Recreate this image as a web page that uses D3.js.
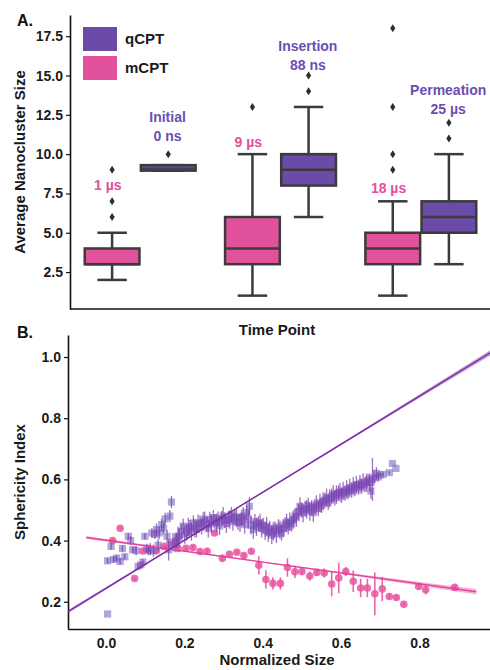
<!DOCTYPE html>
<html><head><meta charset="utf-8">
<script src="https://cdn.jsdelivr.net/npm/d3@7"></script>
<style>
body{margin:0;background:#fff}
text{font-family:"Liberation Sans",Arial,Helvetica,sans-serif;font-weight:bold}
</style>
</head><body><svg id="c" width="490" height="670"></svg>
<script>
// ---------------- DATA: panel A (box plots) ----------------
const timeGroups = [0, 1, 2];
const hues = ["qCPT", "mCPT"];
// [whisker low, q1, median, q3, whisker high]
const mCPTStats = [[2, 3, 3, 4, 5], [1, 3, 4, 6, 10], [1, 3, 4, 5, 7]];
const qCPTStats = [[8.95, 8.95, 9.1, 9.3, 9.3], [6, 8, 9, 10, 13], [3, 5, 6, 7, 10]];
const mCPTOutliers = [[6, 7, 9], [13], [9, 10, 13, 18]];
const qCPTOutliers = [[10], [14, 15], [11, 12]];
const mCPTLabels = [["1 µs"], ["9 µs"], ["18 µs"]];
const qCPTLabels = [["Initial", "0 ns"], ["Insertion", "88 ns"], ["Permeation", "25 µs"]];
const yTicksA = [2.5, 5, 7.5, 10, 12.5, 15, 17.5];

// ---------------- DATA: panel B (scatter) ----------------
const mX = [0.017,0.036,0.073,0.094,0.129,0.148,0.163,0.184,0.204,0.222,0.240,0.258,0.277,0.297,0.315,0.334,0.352,0.371,0.390,0.408,0.426,0.445,0.463,0.482,0.500,0.520,0.538,0.557,0.576,0.594,0.612,0.631,0.650,0.667,0.686,0.705,0.723,0.741,0.760,0.798,0.816,0.890];
const mY = [0.400,0.440,0.276,0.366,0.367,0.381,0.387,0.374,0.375,0.377,0.364,0.365,0.425,0.342,0.355,0.362,0.351,0.365,0.319,0.273,0.260,0.260,0.312,0.298,0.299,0.284,0.296,0.294,0.258,0.278,0.299,0.267,0.245,0.245,0.226,0.242,0.217,0.214,0.192,0.250,0.239,0.247];
const mErr = [0.005,0.005,0.005,0.005,0.006,0.006,0.006,0.006,0.006,0.006,0.008,0.008,0.006,0.012,0.010,0.006,0.008,0.008,0.030,0.030,0.020,0.020,0.030,0.020,0.012,0.015,0.012,0.015,0.040,0.050,0.015,0.035,0.030,0.030,0.070,0.040,0.010,0.008,0.005,0.008,0.015,0.008];

const qX = [0.004,0.004,0.013,0.019,0.027,0.036,0.042,0.048,0.057,0.063,0.068,0.077,0.082,0.089,0.094,0.099,0.104,0.108,0.113,0.117,0.121,0.125,0.129,0.133,0.136,0.142,0.147,0.151,0.156,0.160,0.163,0.167,0.171,0.176,0.180,0.184,0.187,0.192,0.197,0.201,0.206,0.210,0.214,0.218,0.223,0.227,0.231,0.235,0.240,0.244,0.248,0.252,0.257,0.261,0.265,0.269,0.274,0.278,0.282,0.286,0.290,0.295,0.299,0.303,0.307,0.312,0.316,0.320,0.324,0.329,0.333,0.337,0.342,0.346,0.350,0.354,0.359,0.363,0.366,0.370,0.376,0.380,0.384,0.389,0.393,0.397,0.401,0.406,0.410,0.414,0.418,0.423,0.427,0.431,0.435,0.440,0.444,0.448,0.452,0.457,0.461,0.465,0.469,0.474,0.478,0.482,0.486,0.491,0.495,0.499,0.503,0.508,0.512,0.516,0.520,0.525,0.529,0.533,0.537,0.542,0.546,0.550,0.554,0.559,0.563,0.567,0.571,0.576,0.580,0.584,0.588,0.593,0.597,0.601,0.605,0.610,0.614,0.618,0.622,0.627,0.631,0.635,0.639,0.644,0.648,0.652,0.656,0.661,0.665,0.669,0.673,0.676,0.680,0.684,0.690,0.695,0.700,0.707,0.723,0.731,0.740];
const qY = [0.160,0.334,0.381,0.338,0.343,0.332,0.374,0.347,0.414,0.400,0.370,0.367,0.316,0.321,0.330,0.414,0.375,0.367,0.372,0.425,0.367,0.420,0.436,0.385,0.425,0.452,0.440,0.471,0.414,0.370,0.480,0.526,0.395,0.392,0.400,0.415,0.409,0.430,0.447,0.420,0.425,0.445,0.442,0.430,0.458,0.440,0.436,0.455,0.458,0.445,0.463,0.470,0.452,0.440,0.469,0.455,0.475,0.462,0.458,0.470,0.448,0.472,0.480,0.466,0.455,0.470,0.469,0.485,0.462,0.478,0.474,0.460,0.458,0.476,0.480,0.452,0.491,0.470,0.512,0.450,0.436,0.462,0.445,0.455,0.458,0.440,0.450,0.432,0.447,0.425,0.440,0.418,0.430,0.438,0.422,0.445,0.436,0.425,0.440,0.452,0.458,0.445,0.462,0.455,0.469,0.480,0.475,0.495,0.512,0.500,0.490,0.505,0.502,0.515,0.495,0.508,0.491,0.512,0.518,0.505,0.523,0.515,0.528,0.532,0.540,0.525,0.538,0.545,0.551,0.540,0.550,0.556,0.558,0.548,0.562,0.555,0.567,0.560,0.572,0.565,0.578,0.570,0.582,0.575,0.584,0.578,0.590,0.583,0.589,0.598,0.590,0.562,0.600,0.605,0.620,0.608,0.615,0.616,0.622,0.652,0.636];
const qErr = [0,0.010,0.010,0.010,0.010,0.010,0.010,0.010,0.010,0.015,0.010,0.015,0.010,0.010,0.010,0.010,0.015,0.015,0.020,0.015,0.020,0.015,0.020,0.020,0.020,0.020,0.020,0.020,0.020,0.035,0.020,0.020,0.030,0.030,0.025,0.030,0.030,0.025,0.025,0.030,0.025,0.030,0.025,0.030,0.025,0.030,0.025,0.030,0.025,0.025,0.030,0.025,0.025,0.030,0.025,0.030,0.025,0.025,0.030,0.025,0.030,0.025,0.030,0.025,0.030,0.025,0.030,0.025,0.030,0.025,0.030,0.025,0.030,0.025,0.030,0.030,0.025,0.030,0.030,0.030,0.030,0.025,0.030,0.025,0.030,0.030,0.025,0.030,0.030,0.030,0.025,0.030,0.030,0.025,0.030,0.025,0.030,0.025,0.030,0.025,0.030,0.025,0.030,0.025,0.030,0.025,0.030,0.025,0.030,0.025,0.030,0.025,0.030,0.025,0.030,0.025,0.030,0.025,0.030,0.025,0.030,0.025,0.030,0.025,0.030,0.025,0.030,0.025,0.030,0.025,0.030,0.025,0.030,0.025,0.030,0.025,0.030,0.025,0.030,0.025,0.030,0.025,0.030,0.025,0.030,0.025,0.030,0.025,0.030,0.020,0.030,0.025,0.070,0.025,0.020,0.015,0.005,0.005,0.005];

// regression fits: [intercept, slope, x start, x end], CI half-widths [left, middle, right]
const qFit = [0.244, 0.785, -0.097, 0.98];
const qFitCI = [0.005, 0.002, 0.009];
const mFit = [0.401, -0.178, -0.05, 0.945];
const mFitCI = [0.005, 0.002, 0.009];
const xTicksB = [0, 0.2, 0.4, 0.6, 0.8];
const yTicksB = [0.2, 0.4, 0.6, 0.8, 1.0];

// ---------------- STYLE ----------------
const purple = "#6a4ba7", pink = "#e2529c", boxLine = "#3b3b3b";
const qPoint = "#7f6ac4", qBar = "#7a35aa", qLine = "#7b2ca6";
const mPoint = "#e8559f", mLine = "#e6419a";

const svg = d3.select("#c");

// ================= PANEL A =================
const xA = d3.scaleLinear().domain([-0.5, 2.5]).range([70, 491]);
const yA = d3.scaleLinear().domain([0.15, 18.85]).range([309, 15]);

const axA = svg.append("g").attr("transform", "translate(70,0)")
  .call(d3.axisLeft(yA).tickValues(yTicksA).tickFormat(d3.format(".1f")).tickSize(4).tickSizeOuter(0).tickPadding(3));
axA.select(".domain").attr("stroke", "#111").attr("stroke-width", 1.6);
axA.selectAll(".tick line").attr("stroke", "#111").attr("stroke-width", 1.2);
axA.selectAll(".tick text").attr("font-size", 14).attr("fill", "#1a1a1a").attr("font-family", "Liberation Sans, Arial, sans-serif").attr("font-weight", "bold");
svg.append("line").attr("x1", 70).attr("x2", 490).attr("y1", 309).attr("y2", 309).attr("stroke", "#111").attr("stroke-width", 1.6);

const boxW = 0.39, capW = 0.21;
function drawBox(gi, stats, outs, off, fill) {
  const cx = xA(gi + off);
  const hw = (xA(boxW / 2) - xA(0));
  const cw = (xA(capW / 2) - xA(0));
  const [lo, q1, med, q3, hi] = stats;
  const g = svg.append("g").attr("stroke", boxLine).attr("stroke-width", 2.5);
  g.append("line").attr("x1", cx).attr("x2", cx).attr("y1", yA(q3)).attr("y2", yA(hi));
  g.append("line").attr("x1", cx).attr("x2", cx).attr("y1", yA(q1)).attr("y2", yA(lo));
  g.append("line").attr("x1", cx - cw).attr("x2", cx + cw).attr("y1", yA(hi)).attr("y2", yA(hi));
  g.append("line").attr("x1", cx - cw).attr("x2", cx + cw).attr("y1", yA(lo)).attr("y2", yA(lo));
  g.append("rect").attr("x", cx - hw).attr("width", 2 * hw).attr("y", yA(q3)).attr("height", yA(q1) - yA(q3)).attr("fill", fill);
  g.append("line").attr("x1", cx - hw).attr("x2", cx + hw).attr("y1", yA(med)).attr("y2", yA(med)).attr("stroke-width", q3 - q1 < 1 ? 1 : 2.5);
  outs.forEach(v => {
    const y = yA(v);
    svg.append("path").attr("d", `M${cx},${y - 4}L${cx + 2.6},${y}L${cx},${y + 4}L${cx - 2.6},${y}Z`).attr("fill", "#2e2e2e");
  });
}
timeGroups.forEach(i => {
  drawBox(i, mCPTStats[i], mCPTOutliers[i], -0.2, pink);
  drawBox(i, qCPTStats[i], qCPTOutliers[i], 0.2, purple);
});

// group labels (layout anchors in data units)
const mLabY = [7.7, 10.45, 7.5];
const qLabY = [12.05, 16.55, 13.75];
timeGroups.forEach(i => {
  svg.append("text").attr("x", xA(i - 0.23)).attr("y", yA(mLabY[i])).attr("text-anchor", "middle")
    .attr("font-size", 14).attr("fill", "#e0509c").text(mCPTLabels[i][0]);
  qCPTLabels[i].forEach((t, k) => {
    svg.append("text").attr("x", xA(i + 0.195)).attr("y", yA(qLabY[i]) + k * 19).attr("text-anchor", "middle")
      .attr("font-size", 14).attr("fill", "#6a4fb2").text(t);
  });
});

// legend
const legColors = [purple, pink];
hues.forEach((h, k) => {
  svg.append("rect").attr("x", 83).attr("y", 27 + k * 29).attr("width", 34).attr("height", 24).attr("fill", legColors[k]);
  svg.append("text").attr("x", 125).attr("y", 44 + k * 29).attr("font-size", 15).attr("fill", "#1a1a1a").text(h);
});

svg.append("text").attr("x", 17).attr("y", 26).attr("font-size", 16).attr("fill", "#111").text("A.");
svg.append("text").attr("transform", "translate(25,162) rotate(-90)").attr("text-anchor", "middle")
  .attr("font-size", 15).attr("fill", "#1a1a1a").text("Average Nanocluster Size");
svg.append("text").attr("x", 277).attr("y", 335).attr("text-anchor", "middle")
  .attr("font-size", 15).attr("fill", "#1a1a1a").text("Time Point");

// ================= PANEL B =================
const xB = d3.scaleLinear().domain([-0.097, 0.98]).range([68, 490]);
const yB = d3.scaleLinear().domain([0.111, 1.072]).range([629, 335]);

svg.append("defs").append("clipPath").attr("id", "clipB")
  .append("rect").attr("x", 68).attr("y", 335).attr("width", 422).attr("height", 294);

const axBy = svg.append("g").attr("transform", "translate(68,0)")
  .call(d3.axisLeft(yB).tickValues(yTicksB).tickFormat(d3.format(".1f")).tickSize(4).tickSizeOuter(0).tickPadding(3));
const axBx = svg.append("g").attr("transform", "translate(0,629)")
  .call(d3.axisBottom(xB).tickValues(xTicksB).tickFormat(d3.format(".1f")).tickSize(0).tickSizeOuter(0).tickPadding(9));
[axBy, axBx].forEach(a => {
  a.select(".domain").attr("stroke", "#111").attr("stroke-width", 1.6);
  a.selectAll(".tick line").attr("stroke", "#111").attr("stroke-width", 1.2);
  a.selectAll(".tick text").attr("font-size", 14).attr("fill", "#1a1a1a").attr("font-family", "Liberation Sans, Arial, sans-serif").attr("font-weight", "bold");
});

const plot = svg.append("g").attr("clip-path", "url(#clipB)");

// mCPT points
mX.forEach((x, i) => {
  if (mErr[i] > 0.004) plot.append("line").attr("x1", xB(x)).attr("x2", xB(x)).attr("y1", yB(mY[i] - mErr[i])).attr("y2", yB(mY[i] + mErr[i]))
    .attr("stroke", mPoint).attr("stroke-width", 1.6).attr("opacity", 0.9);
  plot.append("circle").attr("cx", xB(x)).attr("cy", yB(mY[i])).attr("r", 3.8).attr("fill", mPoint).attr("opacity", 0.85);
});
// qCPT points
qX.forEach((x, i) => {
  plot.append("rect").attr("x", xB(x) - 3.6).attr("y", yB(qY[i]) - 3.6).attr("width", 7.2).attr("height", 7.2)
    .attr("fill", qPoint).attr("opacity", 0.6);
});
qX.forEach((x, i) => {
  if (qErr[i] > 0) plot.append("line").attr("x1", xB(x)).attr("x2", xB(x)).attr("y1", yB(qY[i] - qErr[i])).attr("y2", yB(qY[i] + qErr[i]))
    .attr("stroke", qBar).attr("stroke-width", 1.3).attr("opacity", 0.7);
});

// regression lines with confidence bands
function fitBand(fit, ci, col) {
  const [b0, b1, xs, xe] = fit;
  const xm = (xs + xe) / 2;
  const pts = [[xs, ci[0]], [xm, ci[1]], [xe, ci[2]]];
  const area = d3.area().curve(d3.curveMonotoneX)
    .x(d => xB(d[0])).y0(d => yB(b0 + b1 * d[0] - d[1])).y1(d => yB(b0 + b1 * d[0] + d[1]));
  plot.append("path").attr("d", area(pts)).attr("fill", col).attr("opacity", 0.4);
  plot.append("line").attr("x1", xB(xs)).attr("y1", yB(b0 + b1 * xs)).attr("x2", xB(xe)).attr("y2", yB(b0 + b1 * xe))
    .attr("stroke", col).attr("stroke-width", 1.4);
}
fitBand(mFit, mFitCI, mLine);
fitBand(qFit, qFitCI, qLine);

svg.append("text").attr("x", 17).attr("y", 338).attr("font-size", 16).attr("fill", "#111").text("B.");
svg.append("text").attr("transform", "translate(25,482) rotate(-90)").attr("text-anchor", "middle")
  .attr("font-size", 15).attr("fill", "#1a1a1a").text("Sphericity Index");
svg.append("text").attr("x", 277).attr("y", 665).attr("text-anchor", "middle")
  .attr("font-size", 15).attr("fill", "#1a1a1a").text("Normalized Size");
</script></body></html>
